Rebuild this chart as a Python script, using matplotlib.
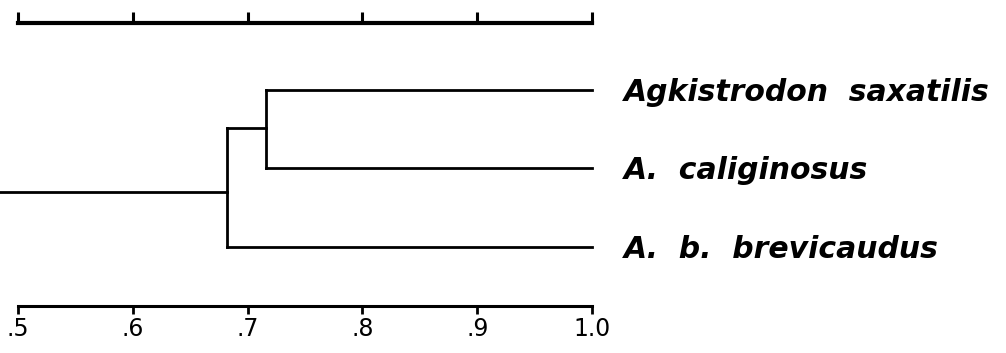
import matplotlib
matplotlib.use("Agg")
import matplotlib.pyplot as plt

# similarity values
taxa = ["Agkistrodon  saxatilis", "A.  caliginosus", "A.  b.  brevicaudus"]
inner_join = 0.716   # saxatilis + caliginosus
root_join = 0.682    # + brevicaudus
leaf_end = 1.0

scale_ticks = [0.5, 0.6, 0.7, 0.8, 0.9, 1.0]
scale_labels = [".5", ".6", ".7", ".8", ".9", "1.0"]

fig = plt.figure(figsize=(10.06, 3.53), dpi=100)
ax = fig.add_axes([0, 0, 1, 1])
ax.set_xlim(0.4843, 1.3606)
ax.set_ylim(3.35, -1.146)
ax.axis("off")

lw = 2.0
k = "black"
rows = list(range(len(taxa)))
inner_mid = 0.48
root_mid = 1.30

# dendrogram
ax.plot([inner_join, leaf_end], [rows[0], rows[0]], color=k, lw=lw)
ax.plot([inner_join, leaf_end], [rows[1], rows[1]], color=k, lw=lw)
ax.plot([inner_join, inner_join], [rows[0], rows[1]], color=k, lw=lw)
ax.plot([root_join, inner_join], [inner_mid, inner_mid], color=k, lw=lw)
ax.plot([root_join, leaf_end], [rows[2], rows[2]], color=k, lw=lw)
ax.plot([root_join, root_join], [inner_mid, rows[2]], color=k, lw=lw)
ax.plot([ax.get_xlim()[0], root_join], [root_mid, root_mid], color=k, lw=lw)

for r, name in zip(rows, taxa):
    ax.text(1.028, r + 0.03, name, fontsize=21.5, style="italic", weight="bold",
            family="DejaVu Sans", va="center", ha="left")

# top scale bar (ticks up, no labels)
top_y = -0.85
ax.plot([scale_ticks[0], scale_ticks[-1]], [top_y, top_y], color=k, lw=3)
ax.vlines(scale_ticks, top_y, top_y - 0.14, color=k, lw=2.2)

# bottom scale bar (ticks down, labelled)
bot_y = 2.75
ax.plot([scale_ticks[0], scale_ticks[-1]], [bot_y, bot_y], color=k, lw=2.2)
ax.vlines(scale_ticks, bot_y, bot_y + 0.1, color=k, lw=2)
for t, lab in zip(scale_ticks, scale_labels):
    ax.text(t, bot_y + 0.3, lab, fontsize=17, ha="center", va="center",
            family="DejaVu Sans")

fig.savefig("out.png", dpi=100, facecolor="white")
